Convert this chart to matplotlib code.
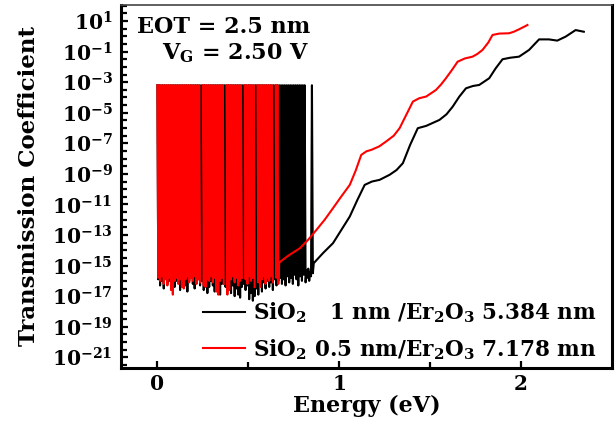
import numpy as np
import matplotlib
matplotlib.use("Agg")
import matplotlib.pyplot as plt
from matplotlib.ticker import FixedLocator, LogFormatterSciNotation, NullFormatter

# ---------------- data (log10 of transmission) ----------------
noise_top = -3.2

red_noise_E = np.round(np.arange(0.0, 0.665, 0.01), 2)
red_noise_low = [-15.8, -16.0, -15.7, -16.2, -15.9, -16.3, -15.8, -16.6, -16.9, -16.0,
                 -15.8, -16.2, -15.9, -16.4, -16.5, -15.9, -15.7, -16.1, -15.8, -16.0,
                 -15.7, -16.2, -15.9, -16.1, np.nan, -16.3, -16.4, -15.9, -16.0, -15.7,
                 -16.1, -15.8, -16.7, -16.9, -16.0, -15.8, -16.2, np.nan, -16.9, -16.6,
                 -15.9, -15.7, -16.1, -15.8, -16.3, -16.0, -15.8, np.nan, -15.9, -16.2,
                 -15.7, -16.0, -15.8, -16.4, np.nan, -16.1, -16.4, -15.9, -15.7, -16.2,
                 -15.8, -16.0, -15.7, -16.1, np.nan, -15.8, -16.2]
red_noise_high = [noise_top] * len(red_noise_low)

black_noise_E = np.round(np.arange(0.0, 0.855, 0.01), 2)
black_noise_low = [-15.9, -16.3, -16.0, -16.5, -15.8, -16.2, -16.0, -15.7, -16.1, -16.4,
                   -16.0, -15.8, -16.6, -16.2, -15.9, -16.3, -16.7, -16.0, -15.8, -16.2,
                   -16.5, -16.1, -15.9, -16.3, -16.0, -16.6, -16.2, -16.8, -16.4, -16.0,
                   -16.3, -16.7, -16.1, -16.5, -16.9, -16.2, -16.0, -16.4, -16.6, -16.2,
                   -16.8, -16.3, -17.0, -16.5, -16.9, -17.1, -16.4, -16.2, -16.6, -16.3,
                   -17.2, -16.8, -17.3, -17.0, -16.5, -16.9, -16.3, -16.7, -16.1, -16.5,
                   -16.0, -16.4, -16.1, -16.6, -15.9, -16.3, -16.0, -15.8, -16.2, -15.9,
                   -16.3, -15.7, -16.1, -15.8, -16.2, -15.6, -15.9, -16.3, -15.7, -16.0,
                   -15.6, -16.1, -15.8, -16.0, -15.7, -15.5]
black_noise_high = [noise_top] * 82 + [-15.3, -15.2, -15.4, noise_top]

red_E = [0.67, 0.72, 0.784, 0.83, 0.875, 0.92, 0.966, 1.01, 1.058, 1.09, 1.121, 1.15,
         1.176, 1.22, 1.258, 1.30, 1.332, 1.37, 1.405, 1.44, 1.478, 1.532, 1.56, 1.587,
         1.62, 1.651, 1.69, 1.733, 1.76, 1.788, 1.82, 1.843, 1.88, 1.934, 1.96, 1.989,
         2.035]
red_T = [-14.8, -14.35, -13.86, -13.3, -12.66, -12.0, -11.24, -10.5, -9.72, -8.8, -7.76,
         -7.52, -7.43, -7.2, -6.88, -6.5, -6.01, -5.1, -4.27, -4.05, -3.94, -3.51, -3.15,
         -2.74, -2.2, -1.66, -1.45, -1.33, -1.15, -0.89, -0.4, 0.09, 0.18, 0.20, 0.3,
         0.46, 0.74]

black_E = [0.86, 0.911, 0.966, 1.01, 1.058, 1.10, 1.140, 1.18, 1.222, 1.277, 1.315,
           1.350, 1.39, 1.432, 1.478, 1.551, 1.59, 1.624, 1.66, 1.697, 1.735, 1.770,
           1.825, 1.86, 1.898, 1.94, 1.989, 2.044, 2.075, 2.099, 2.153, 2.199, 2.245,
           2.300, 2.345]
black_T = [-14.84, -14.18, -13.53, -12.7, -11.79, -10.7, -9.72, -9.5, -9.39, -9.06,
           -8.75, -8.30, -7.1, -6.01, -5.86, -5.47, -5.1, -4.60, -3.95, -3.40, -3.25,
           -3.18, -2.74, -2.1, -1.50, -1.4, -1.33, -0.89, -0.5, -0.20, -0.20, -0.28,
           -0.02, 0.41, 0.30]

labels = [r"SiO$_2$   1 nm /Er$_2$O$_3$ 5.384 nm",
          r"SiO$_2$ 0.5 nm/Er$_2$O$_3$ 7.178 mn"]
colors = ["black", "#ff0000"]


def zigzag(E, high, low, dE=0.005):
    xs, ys = [], []
    for e, h, l in zip(E, high, low):
        if np.isnan(l):
            xs += [np.nan, np.nan]
            ys += [np.nan, np.nan]
        else:
            xs += [e, e + dE]
            ys += [h, l]
    return xs, ys


# ---------------- style ----------------
FONT = "DejaVu Serif"
plt.rcParams["font.family"] = [FONT]
plt.rcParams["font.weight"] = "bold"
plt.rcParams["mathtext.fontset"] = "custom"
for k in ("rm", "it", "bf", "sf"):
    plt.rcParams["mathtext." + k] = FONT + ":bold"

fig = plt.figure(figsize=(6.16, 4.46), dpi=100)
ax = fig.add_axes([121 / 616, 1 - 368 / 446, (612 - 121) / 616, (368 - 5) / 446])

bx, by = zigzag(black_noise_E, black_noise_high, black_noise_low)
rx, ry = zigzag(red_noise_E, red_noise_high, red_noise_low)
bx = bx + black_E
by = by + black_T
rx = rx + red_E
ry = ry + red_T

ax.plot(bx, 10.0 ** np.array(by, dtype=float), color=colors[0], lw=1.5, label=labels[0])
ax.plot(rx, 10.0 ** np.array(ry, dtype=float), color=colors[1], lw=1.5, label=labels[1])

ax.set_yscale("log")
ax.set_xlim(-0.2, 2.5)
ax.set_ylim(10 ** -21.7, 10 ** 2.05)

ax.yaxis.set_major_locator(FixedLocator([10.0 ** k for k in range(-21, 2, 2)]))
ax.yaxis.set_major_formatter(LogFormatterSciNotation())
ax.yaxis.set_minor_locator(FixedLocator([10.0 ** (k / 2) for k in range(-43, 5)]))
ax.yaxis.set_minor_formatter(NullFormatter())
ax.set_xticks([0, 1, 2])
ax.set_xticks([0.5, 1.5], minor=True)

ax.tick_params(axis="both", which="both", direction="in", width=1.6, color="black")
ax.tick_params(axis="both", which="major", length=5, labelsize=14.5, pad=6)
ax.tick_params(axis="x", which="major", pad=4)
ax.tick_params(axis="both", which="minor", length=4)
ax.tick_params(axis="y", which="both", right=False)
for lab in ax.get_xticklabels() + ax.get_yticklabels():
    lab.set_fontweight("bold")

for s in ("left", "bottom", "right"):
    ax.spines[s].set_linewidth(2.2)
ax.spines["top"].set_linewidth(1.2)
ax.spines["top"].set_color("#444444")

ax.set_xlabel("Energy (eV)", fontsize=16, fontweight="bold", labelpad=1)
ax.set_ylabel("Transmission Coefficient", fontsize=16.5, fontweight="bold")
ax.yaxis.set_label_coords(-0.165, 0.5)

ax.text(0.033, 0.939, "EOT = 2.5 nm", transform=ax.transAxes, fontsize=16,
        fontweight="bold", va="center", ha="left")
ax.text(0.083, 0.868, r"V$_G$ = 2.50 V", transform=ax.transAxes, fontsize=16,
        fontweight="bold", va="center", ha="left")

leg = ax.legend(loc="lower right", bbox_to_anchor=(0.995, -0.018), frameon=False,
                fontsize=15.5, handlelength=1.95, handletextpad=0.37, labelspacing=0.55,
                borderaxespad=0.2)
for t in leg.get_texts():
    t.set_fontweight("bold")

fig.savefig("out.png", dpi=100)
